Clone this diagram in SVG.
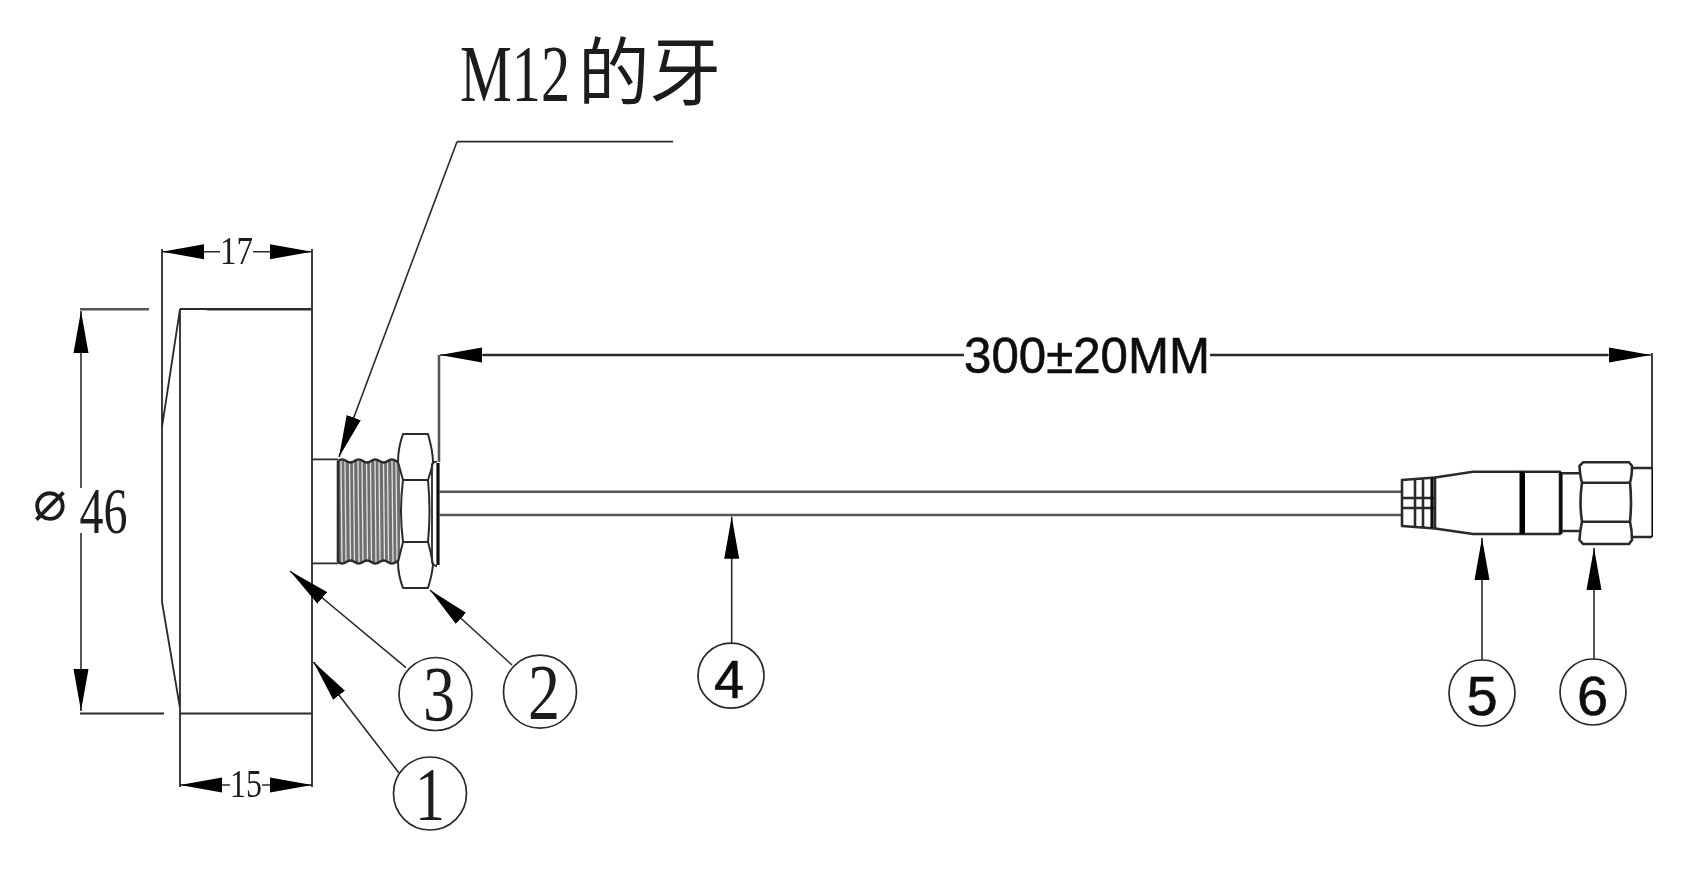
<svg xmlns="http://www.w3.org/2000/svg" width="1686" height="890" viewBox="0 0 1686 890">
<style>
.l{fill:none;stroke:#2a2a2a;stroke-width:1.8;stroke-linejoin:round;stroke-linecap:butt}
.h{fill:none;stroke:#2a2a2a;stroke-width:2.6;stroke-linejoin:round}
.g{fill:none;stroke:#555;stroke-width:2.6}
.k{fill:none;stroke:#111;stroke-width:3.2}
.a{fill:none;stroke:#2a2a2a;stroke-width:1.6;marker-end:url(#ar)}
.c{fill:#fff;stroke:#2a2a2a;stroke-width:1.7}
.s{font-family:"Liberation Serif","Noto Sans CJK SC",serif;fill:#1a1a1a}
.n{font-family:"Liberation Sans","Noto Sans CJK SC",sans-serif;fill:#111;stroke:#111;stroke-width:.6}
</style>
<defs>
<marker id="ar" markerUnits="userSpaceOnUse" markerWidth="44" markerHeight="16" refX="42" refY="8" orient="auto"><path d="M0,0.5 L42,8 L0,15.500Z" fill="#000"/></marker>
<filter id="soft" x="0" y="0" width="1" height="1" filterUnits="objectBoundingBox"><feGaussianBlur stdDeviation="0.4"/></filter>
</defs>
<rect width="1686" height="890" fill="#fff"/>
<g filter="url(#soft)">
<g id="housing">
<path class="l" d="M162 249V602L180 708M180 309L162 427M180 309V787M312 249V787"/>
<path class="l" d="M180 309H207M180 713.500H312"/>
<path class="h" d="M207 309.300H312"/>
<path class="g" d="M80 309.300H149"/>
<path class="l" d="M80 713.500H164"/>
<path class="l" d="M312 459.300H338M312 563.300H338"/>
</g>
<g id="thread">
<rect x="338" y="461" width="62" height="101" fill="#6e6e6e"/>
<path d="M341 461l1 101M345 461l1 101M349.500 461l1 101M353.500 461l1 101M358 461l1 101M362 461l1 101M366.500 461l1 101M370.500 461l1 101M375 461l1 101M379 461l1 101M383.500 461l1 101M387.500 461l1 101M392 461l1 101M396 461l1 101" fill="none" stroke="#e4e4e4" stroke-width="1.3"/>
<path class="h" d="M338 461q4 -3 8.300 0t8.300 0t8.300 0t8.300 0t8.300 0t8.300 0t8.300 0t4 0M338 562q4 3 8.300 0t8.300 0t8.300 0t8.300 0t8.300 0t8.300 0t8.300 0t4 0M338 461V562"/>
</g>
<g id="nut">
<path class="h" style="fill:#fff;stroke-width:2" d="M403 434H428Q433 452 433 462Q431 472 428 480Q431 511 428 542Q431 552 433 565Q432 575 428 588H403Q398 575 398 562L403 542Q399 511 403 480L398 462Q398 448 403 434Z"/>
<path class="l" d="M403 480H428M403 542H428"/>
</g>
<g id="washer">
<path class="g" d="M439 355V462"/>
<path class="l" d="M432 464Q434 461 437 462M432 464V562Q434 566 437 566"/>
<path class="k" d="M438 463V565"/>
</g>
<g id="cable">
<path class="g" d="M439 491.700H1402M439 515H1402"/>
</g>
<g id="connector">
<path class="h" d="M1402 480L1435 477.500V528.500L1402 526ZM1402 498H1435M1402 508H1435M1415 479V527M1423 478.500V527.500"/>
<path class="k" d="M1432 478V528"/>
<path class="h" d="M1435 477.500L1473 471.700H1560V534H1473L1435 528.500"/>
<rect x="1519.500" y="471.700" width="5.500" height="62.300" fill="#000"/>
<path class="k" d="M1561 472V534"/>
<path class="h" d="M1562 473.300H1580M1562 531H1580"/>
<path class="h" d="M1583 462.300H1629L1632 466Q1632 476 1630 482.700Q1632 502 1630 521.700Q1632 530 1632 540L1629 544H1583L1579.500 540Q1580 530 1582 521.700Q1579 502 1582 482.700Q1580 476 1579.500 466ZM1582 482.700H1630M1582 521.700H1630"/>
<path class="h" d="M1632 468H1652M1632 537H1652"/>
<path class="k" d="M1653 468V537"/>
</g>
<g id="connectors">
<path class="l" d="M673 141.700H457"/>
<path class="a" d="M457 141.700L339 457"/>
<path class="a" d="M220 251.700H162"/>
<path class="a" d="M253 251.700H312"/>
<path class="a" d="M230 785H180"/>
<path class="a" d="M262 785H312"/>
<path class="a" d="M81 488V311"/>
<path class="a" d="M81 533V711"/>
<path class="h" d="M964 355H483"/>
<path class="h" d="M1210 355H1608"/>
<path class="a" d="M520 355H440"/>
<path class="a" d="M1560 355H1651"/>
<path class="l" d="M1652 353V468"/>
<path class="a" d="M406 667.700L290 571"/>
<path class="a" d="M512 665L430 590"/>
<path class="a" d="M399 773L313.500 662"/>
<path class="a" d="M731.700 643V516.700"/>
<path class="a" d="M1482 660V538"/>
<path class="a" d="M1594 660V548"/>
</g>
<g id="c1"><ellipse class="c" cx="430" cy="793.500" rx="36.500" ry="36.500"/><text class="s" x="415" y="820" font-size="76" textLength="30" lengthAdjust="spacingAndGlyphs">1</text></g>
<g id="c2"><ellipse class="c" cx="540" cy="691.700" rx="36.500" ry="36.500"/><text class="s" x="528" y="718" font-size="78" textLength="32" lengthAdjust="spacingAndGlyphs">2</text></g>
<g id="c3"><ellipse class="c" cx="435.500" cy="694" rx="36.500" ry="36.500"/><text class="s" x="423" y="720" font-size="79" textLength="32" lengthAdjust="spacingAndGlyphs">3</text></g>
<g id="c4"><ellipse class="c" cx="731" cy="675.700" rx="33" ry="32.500"/><text class="n" x="714" y="698" font-size="54">4</text></g>
<g id="c5"><ellipse class="c" cx="1482" cy="693" rx="33" ry="33"/><text class="n" x="1466.500" y="715" font-size="56">5</text></g>
<g id="c6"><ellipse class="c" cx="1593" cy="692" rx="33" ry="33"/><text class="n" x="1577" y="715" font-size="56">6</text></g>
<g id="labels">
<text class="s" y="101"><tspan x="460" font-size="80" textLength="110" lengthAdjust="spacingAndGlyphs">M12</tspan><tspan x="578" y="99" font-size="74" textLength="143" lengthAdjust="spacingAndGlyphs">的牙</tspan></text>
<text class="s" x="220" y="264" font-size="41" textLength="33" lengthAdjust="spacingAndGlyphs">17</text>
<text class="s" x="230" y="797" font-size="39" textLength="32" lengthAdjust="spacingAndGlyphs">15</text>
<text class="s" y="532.700" font-size="65"><tspan x="33" y="520" font-family="'DejaVu Sans',sans-serif" font-size="56">⌀</tspan><tspan x="79.600" y="532.700" textLength="48" lengthAdjust="spacingAndGlyphs">46</tspan></text>
<text class="n" x="964" y="372.700" font-size="50" textLength="246" lengthAdjust="spacingAndGlyphs">300±20MM</text>
</g>
</g>
</svg>
